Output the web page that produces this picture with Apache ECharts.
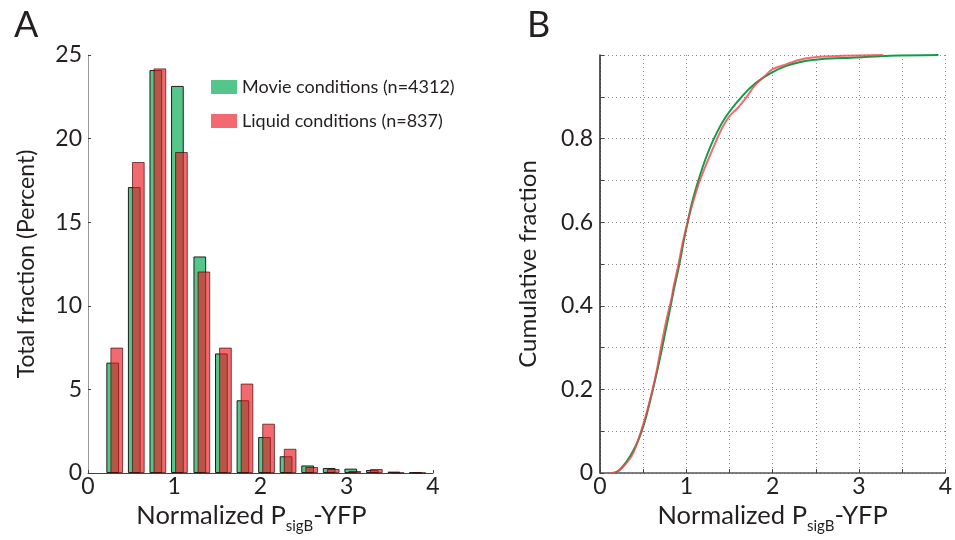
<!DOCTYPE html>
<html>
<head>
<meta charset="utf-8">
<script src="https://cdn.jsdelivr.net/npm/echarts@6/dist/echarts.min.js"></script>
<style>
  html, body { margin: 0; padding: 0; background: #fff; }
  #chart { width: 955px; height: 540px; }
</style>
</head>
<body>
<div id="chart"></div>
<script>
// Histogram bins of normalized PsigB-YFP (bin centres) and percent of cells per bin
const binCenters = [0.31, 0.56, 0.81, 1.06, 1.32, 1.57, 1.82, 2.07, 2.32, 2.57, 2.82, 3.07, 3.32, 3.57, 3.82];
const movieHist  = [6.6, 17.1, 24.1, 23.15, 12.95, 7.15, 4.35, 2.15, 1.0, 0.45, 0.3, 0.26, 0.18, 0.08, 0.04];
const liquidHist = [7.5, 18.6, 24.2, 19.2, 12.05, 7.5, 5.35, 2.95, 1.45, 0.36, 0.24, 0.12, 0.24, 0.02, 0.02];

// Cumulative distributions
const movieCdfX  = [0.17, 0.22, 0.31, 0.39, 0.46, 0.52, 0.58, 0.64, 0.7, 0.75, 0.81, 0.86, 0.92, 0.965, 1.015, 1.07, 1.14, 1.22, 1.32, 1.45, 1.64, 1.81, 1.99, 2.16, 2.39, 2.55, 2.97, 3.36, 3.92];
const movieCdfY  = [0, 0.006, 0.028, 0.055, 0.087, 0.124, 0.172, 0.224, 0.28, 0.33, 0.391, 0.443, 0.5, 0.55, 0.6, 0.65, 0.7, 0.75, 0.8, 0.85, 0.9, 0.934, 0.958, 0.974, 0.986, 0.99, 0.994, 0.998, 1.0];
const liquidCdfX = [0.12, 0.22, 0.33, 0.39, 0.48, 0.54, 0.6, 0.66, 0.71, 0.77, 0.83, 0.85, 0.91, 0.957, 1.015, 1.08, 1.157, 1.254, 1.358, 1.427, 1.505, 1.59, 1.7, 1.79, 1.91, 2.0, 2.16, 2.24, 2.39, 2.55, 2.8, 3.28];
const liquidCdfY = [0, 0.006, 0.03, 0.05, 0.103, 0.144, 0.192, 0.248, 0.305, 0.367, 0.419, 0.443, 0.5, 0.55, 0.6, 0.65, 0.7, 0.75, 0.8, 0.83, 0.855, 0.872, 0.9, 0.926, 0.95, 0.966, 0.978, 0.984, 0.992, 0.996, 0.998, 1.0];

const seriesNames = ['Movie conditions (n=4312)', 'Liquid conditions (n=837)'];
const panelLetters = ['A', 'B'];
const histYLabel = 'Total fraction (Percent)';
const cdfYLabel = 'Cumulative fraction';

const FONT = 'Lato, "Open Sans", sans-serif';
const TXT = '#231f20';

const pairs = (xs, ys) => xs.map((x, i) => [x, ys[i]]);

const xName = '{n|Normalized P}{s|sigB}{n|-YFP}';
const xNameRich = {
  n: { fontSize: 25.5, fontFamily: FONT, color: TXT, lineHeight: 28, verticalAlign: 'top' },
  s: { fontSize: 15, fontFamily: FONT, color: TXT, lineHeight: 16, padding: [16, 0, 0, 0], verticalAlign: 'top' }
};
const tickFont = { fontSize: 23, fontFamily: FONT, color: TXT };
const letterStyle = { fontSize: 36, fontWeight: 'normal', fontFamily: FONT, color: TXT };

const chart = echarts.init(document.getElementById('chart'), null, { renderer: 'canvas' });

chart.setOption({
  animation: false,
  backgroundColor: '#fff',
  title: [
    { text: panelLetters[0], left: 14, top: 7, padding: 0, textStyle: letterStyle },
    { text: panelLetters[1], left: 527, top: 7, padding: 0, textStyle: letterStyle }
  ],
  legend: {
    data: seriesNames,
    orient: 'vertical',
    left: 206,
    top: 73,
    itemWidth: 26,
    itemHeight: 14,
    itemGap: 16,
    icon: 'rect',
    itemStyle: { borderWidth: 0 },
    textStyle: { fontSize: 18, fontFamily: FONT, color: TXT, lineHeight: 14 }
  },
  grid: [
    { left: 88, right: 522, top: 55, bottom: 67 },
    { left: 600, right: 9, top: 55, bottom: 67 }
  ],
  xAxis: [
    {
      gridIndex: 0, type: 'value', min: 0, max: 4, interval: 1,
      name: xName, nameLocation: 'middle', nameGap: 27,
      nameTextStyle: { color: TXT, rich: xNameRich, padding: [0, 18, 0, 0] },
      axisLine: { lineStyle: { color: '#444', width: 1 } },
      axisTick: { inside: true, length: 3, lineStyle: { color: '#444' } },
      axisLabel: Object.assign({ margin: 2 }, tickFont),
      splitLine: { show: false }
    },
    {
      gridIndex: 1, type: 'value', min: 0, max: 4, interval: 0.5,
      name: xName, nameLocation: 'middle', nameGap: 27,
      nameTextStyle: { color: TXT, rich: xNameRich },
      axisLine: { lineStyle: { color: '#555', width: 1.5 } },
      axisTick: { inside: true, length: 4, lineStyle: { color: '#444' } },
      axisLabel: Object.assign({
        margin: 2,
        formatter: v => (Math.abs(v - Math.round(v)) < 1e-6 ? String(Math.round(v)) : '')
      }, tickFont),
      splitLine: { show: true, lineStyle: { color: '#8a8a8a', width: 1, type: [1, 3] } }
    }
  ],
  yAxis: [
    {
      gridIndex: 0, type: 'value', min: 0, max: 25, interval: 5,
      name: histYLabel, nameLocation: 'middle', nameGap: 50,
      nameTextStyle: { fontSize: 23, fontFamily: FONT, color: TXT },
      axisLine: { show: true, lineStyle: { color: '#999', width: 1 } },
      axisTick: { inside: true, length: 3, lineStyle: { color: '#444' } },
      axisLabel: Object.assign({ margin: 6 }, tickFont),
      splitLine: { show: false }
    },
    {
      gridIndex: 1, type: 'value', min: 0, max: 1, interval: 0.1,
      name: cdfYLabel, nameLocation: 'middle', nameGap: 60,
      nameTextStyle: { fontSize: 24, fontFamily: FONT, color: TXT },
      axisLine: { show: true, lineStyle: { color: '#222', width: 1.5 } },
      axisTick: { inside: true, length: 4, lineStyle: { color: '#444' } },
      axisLabel: Object.assign({
        margin: 7,
        formatter: v => {
          const t = Math.round(v * 10);
          if (t % 2 !== 0 || t === 10) return '';
          return t === 0 ? '0' : (t / 10).toFixed(1);
        }
      }, tickFont),
      splitLine: { show: true, lineStyle: { color: '#8a8a8a', width: 1, type: [1, 3] } }
    }
  ],
  series: [
    {
      name: seriesNames[0], type: 'bar', xAxisIndex: 0, yAxisIndex: 0,
      data: pairs(binCenters, movieHist),
      barWidth: 12.7, barGap: '-68%',
      itemStyle: { color: '#55c68a', borderColor: '#1e1e1e', borderWidth: 1 }
    },
    {
      name: seriesNames[1], type: 'bar', xAxisIndex: 0, yAxisIndex: 0,
      data: pairs(binCenters, liquidHist),
      barWidth: 12.7, barGap: '-68%',
      itemStyle: { color: 'rgba(235,26,35,0.65)', borderColor: 'rgba(70,10,10,0.7)', borderWidth: 1 }
    },
    {
      name: seriesNames[0] + ' CDF', type: 'line', xAxisIndex: 1, yAxisIndex: 1,
      data: pairs(movieCdfX, movieCdfY), showSymbol: false, smooth: 0.35,
      lineStyle: { color: '#129c48', width: 2 }, z: 3
    },
    {
      name: seriesNames[1] + ' CDF', type: 'line', xAxisIndex: 1, yAxisIndex: 1,
      data: pairs(liquidCdfX, liquidCdfY), showSymbol: false, smooth: 0.35,
      lineStyle: { color: 'rgba(240,70,78,0.8)', width: 2 }, z: 4
    }
  ]
});
</script>
</body>
</html>
